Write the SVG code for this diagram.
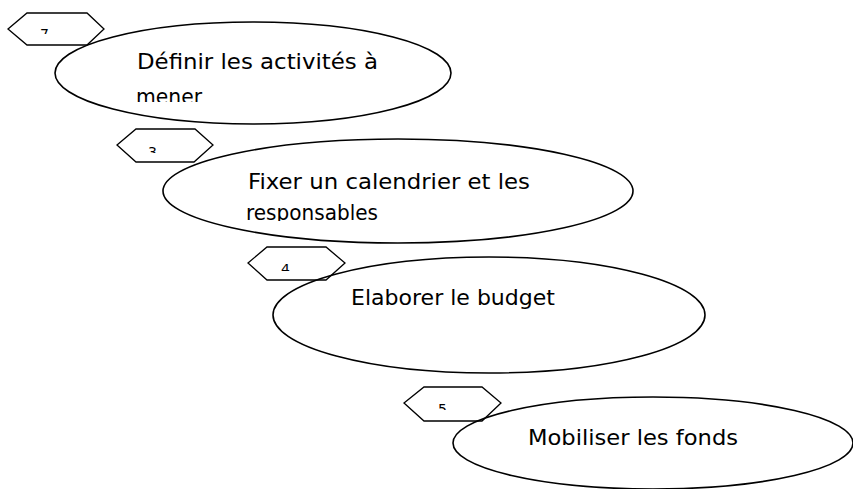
<svg xmlns="http://www.w3.org/2000/svg" width="853" height="489" viewBox="0 0 853 489">
<style>
.hex{fill:#fff;stroke:#000;stroke-width:1.3}
.ell{fill:none;stroke:#000;stroke-width:1.6}
.lbl{font-family:"DejaVu Sans","Liberation Sans",sans-serif;font-size:21px;fill:#000}
.num{font-family:"DejaVu Sans","Liberation Sans",sans-serif;font-size:14px;fill:#000}
</style>
<defs>
<clipPath id="c1"><rect x="120" y="40" width="300" height="62"/></clipPath>
<clipPath id="c2"><rect x="230" y="160" width="320" height="61"/></clipPath>
<clipPath id="n1"><rect x="30" y="20" width="30" height="14"/></clipPath>
<clipPath id="n2"><rect x="140" y="136" width="30" height="17"/></clipPath>
<clipPath id="n3"><rect x="272" y="254" width="30" height="17"/></clipPath>
<clipPath id="n4"><rect x="430" y="394" width="30" height="16"/></clipPath>
</defs>
<g id="step2">
<polygon class="hex" points="8,29 27,13 87,13 104,29 87,45 27,45"/>
<text class="num" x="40" y="39" clip-path="url(#n1)">7</text>
<ellipse class="ell" cx="253" cy="73" rx="198" ry="51"/>
<g clip-path="url(#c1)">
<text class="lbl" x="137" y="69" textLength="241" lengthAdjust="spacingAndGlyphs">Définir les activités à</text>
<text class="lbl" x="136" y="104" textLength="66" lengthAdjust="spacingAndGlyphs">mener</text>
</g>
</g>
<g id="step3">
<polygon class="hex" points="117,145 136,129 195,129 213,145 194,162 136,162"/>
<text class="num" x="148" y="157" clip-path="url(#n2)">3</text>
<ellipse class="ell" cx="398" cy="191" rx="235" ry="52"/>
<g clip-path="url(#c2)">
<text class="lbl" x="248" y="189" textLength="282" lengthAdjust="spacingAndGlyphs">Fixer un calendrier et les</text>
<text class="lbl" x="246" y="220" textLength="132" lengthAdjust="spacingAndGlyphs">responsables</text>
</g>
</g>
<g id="step4">
<polygon class="hex" points="248,263 267,247 326,247 345,263 326,280 267,280"/>
<text class="num" x="281" y="274" clip-path="url(#n3)">4</text>
<ellipse class="ell" cx="489" cy="315" rx="216" ry="58"/>
<text class="lbl" x="351" y="305" textLength="204" lengthAdjust="spacingAndGlyphs">Elaborer le budget</text>
</g>
<g id="step5">
<polygon class="hex" points="404,403 424,387 482,387 501,403 482,421 424,421"/>
<text class="num" x="438" y="414" clip-path="url(#n4)">5</text>
<ellipse class="ell" cx="653" cy="443" rx="200" ry="46"/>
<text class="lbl" x="528" y="445" textLength="210" lengthAdjust="spacingAndGlyphs">Mobiliser les fonds</text>
</g>
<g id="connectors"></g>
</svg>
